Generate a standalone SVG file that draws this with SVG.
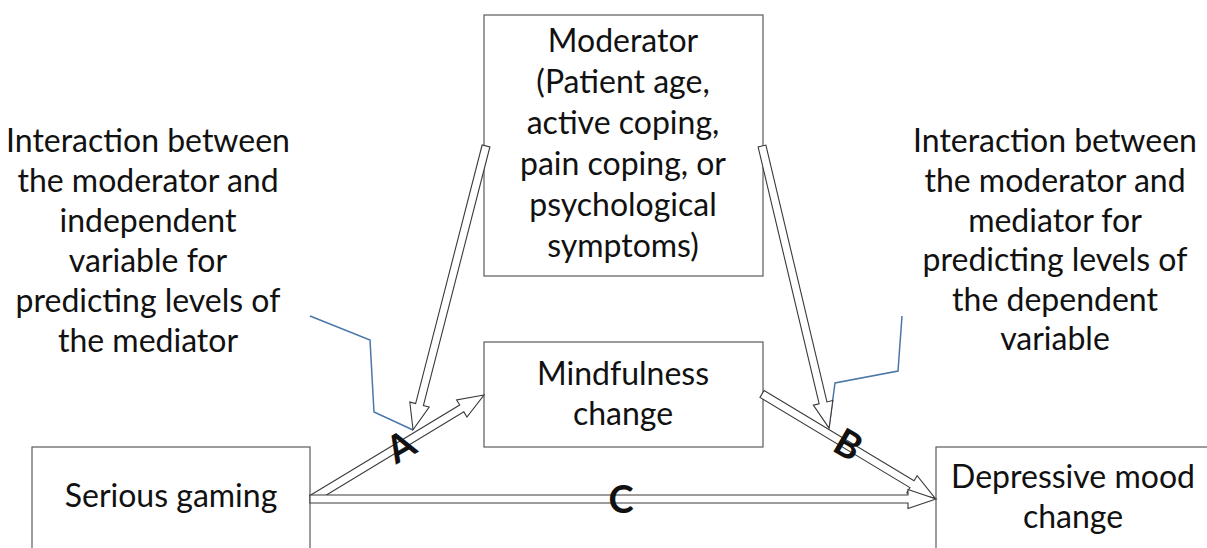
<svg xmlns="http://www.w3.org/2000/svg" width="1207" height="548" viewBox="0 0 1207 548">
<style>
.box{fill:#ffffff;stroke:#5a5a5a;stroke-width:1.2}
.t{font-family:Lato,"Open Sans","Liberation Sans",sans-serif;font-size:32px;fill:#111;text-anchor:middle}
.lbl{font-family:Lato,"Liberation Sans",sans-serif;font-size:38px;font-weight:bold;fill:#111;text-anchor:middle}
.arr{fill:#ffffff;stroke:#3a3a3a;stroke-width:1.1;stroke-linejoin:miter}
.call{fill:none;stroke:#4a76a8;stroke-width:1.5}
</style>
<rect width="1207" height="548" fill="#ffffff"/>
<g id="moderator">
<rect class="box" x="484" y="15" width="279" height="261"/>
<text class="t" x="623" y="52">Moderator</text>
<text class="t" x="623" y="93">(Patient age,</text>
<text class="t" x="623" y="134">active coping,</text>
<text class="t" x="623" y="175">pain coping, or</text>
<text class="t" x="623" y="216">psychological</text>
<text class="t" x="623" y="257">symptoms)</text>
</g>
<g id="mindfulness">
<rect class="box" x="484" y="342" width="279" height="105"/>
<text class="t" x="623" y="385">Mindfulness</text>
<text class="t" x="623" y="425">change</text>
</g>
<g id="serious-gaming">
<rect class="box" x="32" y="447" width="278" height="120"/>
<text class="t" x="171" y="507">Serious gaming</text>
</g>
<g id="depressive">
<rect class="box" x="936" y="447" width="290" height="120"/>
<text class="t" x="1073" y="488">Depressive mood</text>
<text class="t" x="1073" y="528">change</text>
</g>
<g id="note-left">
<text class="t" x="148" y="152">Interaction between</text>
<text class="t" x="148" y="192">the moderator and</text>
<text class="t" x="148" y="232">independent</text>
<text class="t" x="148" y="272">variable for</text>
<text class="t" x="148" y="312">predicting levels of</text>
<text class="t" x="148" y="352">the mediator</text>
</g>
<g id="note-right">
<text class="t" x="1055" y="152">Interaction between</text>
<text class="t" x="1055" y="192">the moderator and</text>
<text class="t" x="1055" y="232">mediator for</text>
<text class="t" x="1055" y="271">predicting levels of</text>
<text class="t" x="1055" y="311">the dependent</text>
<text class="t" x="1055" y="350">variable</text>
</g>
<g id="connectors">
<path class="call" d="M310,316 L370,340 L374,412 L413,430"/>
<path class="call" d="M902,316 L898,371 L835,383 L829,428"/>
<path class="arr" transform="translate(312,499) rotate(-31.16)" d="M0,-4 H175 V-10 L201,0 L175,10 V4 H0 Z"/>
<path class="arr" transform="translate(762,394) rotate(31.02)" d="M0,-4 H175 V-10 L202,0 L175,10 V4 H0 Z"/>
<path class="arr" d="M310,495 H908 V489.5 L936,499 L908,508.5 V503 H310 Z"/>
<path class="arr" transform="translate(486,146) rotate(104.42)" d="M0,-4 H267 V-10 L293,0 L267,10 V4 H0 Z"/>
<path class="arr" transform="translate(762,146) rotate(76.63)" d="M0,-4 H264 V-10 L290,0 L264,10 V4 H0 Z"/>
<text class="lbl" x="401" y="460" transform="rotate(-30 401 447)">A</text>
<text class="lbl" x="848" y="458" transform="rotate(30 848 445)">B</text>
<text class="lbl" x="621" y="513">C</text>
</g>
</svg>
